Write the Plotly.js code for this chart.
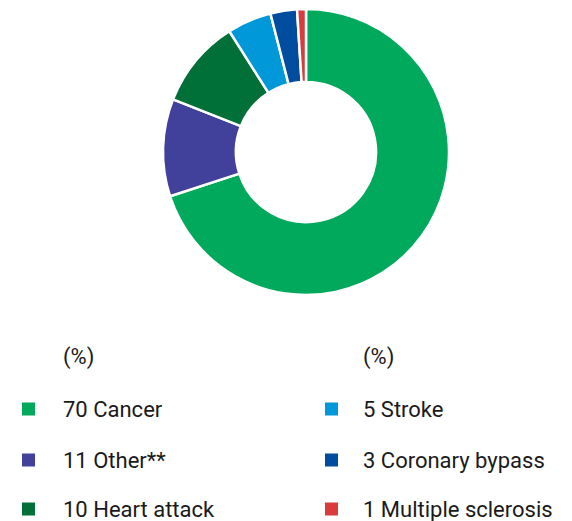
<!DOCTYPE html>
<html>
<head>
<meta charset="utf-8">
<script src="https://cdn.plot.ly/plotly-3.0.1.min.js"></script>
<style>html,body{margin:0;padding:0;background:#fff;}#chart{width:572px;height:521px;}</style>
</head>
<body>
<div id="chart"></div>
<script>
const labels = ["Cancer", "Other**", "Heart attack", "Stroke", "Coronary bypass", "Multiple sclerosis"];
const values = [70, 11, 10, 5, 3, 1];
const colors = ["#00A95C", "#41409A", "#006F38", "#0098D8", "#004DA0", "#D83C3C"];
const unitLabel = "(%)";

const W = 572, H = 521;
const font = "Roboto, 'Open Sans', sans-serif";
const textColor = "#1a1a1a";

const trace = {
  type: "pie",
  labels: labels,
  values: values,
  hole: 0.49,
  sort: false,
  direction: "clockwise",
  rotation: 0,
  marker: {colors: colors, line: {color: "#ffffff", width: 2.5}},
  textinfo: "none",
  hoverinfo: "label+value",
  showlegend: false,
  domain: {x: [163 / W, 449 / W], y: [1 - 296 / H, 1 - 8 / H]}
};

const annotations = [];
const shapes = [];
const colX = [22, 325];
const textX = [61, 361];
const rowY = [409, 460, 509];
const headerY = 357;
colX.forEach((cx, c) => {
  annotations.push({
    xref: "paper", yref: "paper", x: textX[c] / W, y: 1 - headerY / H,
    xanchor: "left", yanchor: "middle", showarrow: false,
    text: unitLabel, font: {family: font, size: 22, color: textColor}
  });
});
labels.forEach((lab, i) => {
  const c = Math.floor(i / 3), r = i % 3;
  const y = rowY[r];
  shapes.push({
    type: "rect", xref: "paper", yref: "paper",
    x0: colX[c] / W, x1: (colX[c] + 13) / W,
    y0: 1 - (y + 6.5) / H, y1: 1 - (y - 6.5) / H,
    fillcolor: colors[i], line: {width: 0}
  });
  annotations.push({
    xref: "paper", yref: "paper", x: textX[c] / W, y: 1 - y / H,
    xanchor: "left", yanchor: "middle", showarrow: false,
    text: values[i] + " " + lab, font: {family: font, size: 22, color: textColor}
  });
});

const layout = {
  width: W, height: H,
  margin: {l: 0, r: 0, t: 0, b: 0},
  paper_bgcolor: "#ffffff",
  plot_bgcolor: "#ffffff",
  showlegend: false,
  annotations: annotations,
  shapes: shapes
};

Plotly.newPlot("chart", [trace], layout, {displayModeBar: false, staticPlot: true});
</script>
</body>
</html>
